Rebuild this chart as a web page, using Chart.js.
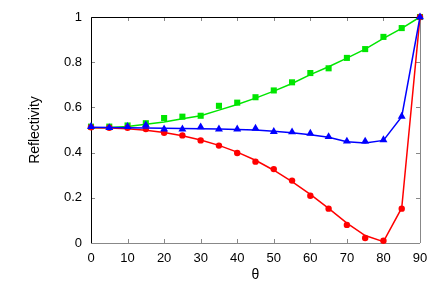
<!DOCTYPE html>
<html>
<head>
<meta charset="utf-8">
<script src="https://cdn.jsdelivr.net/npm/chart.js@4"></script>
<style>
  body { margin: 0; background: #fff; }
</style>
</head>
<body>
<canvas id="myChart" width="436" height="305"></canvas>
<script>
var angles = [0, 5, 10, 15, 20, 25, 30, 35, 40, 45, 50, 55, 60, 65, 70, 75, 80, 85, 90];

// measured points
var greenPts = [0.515, 0.515, 0.52, 0.53, 0.553, 0.559, 0.563, 0.607, 0.621, 0.645, 0.675, 0.711, 0.752, 0.773, 0.819, 0.858, 0.912, 0.951, 1.0];
var redPts   = [0.512, 0.51, 0.51, 0.504, 0.488, 0.476, 0.454, 0.431, 0.398, 0.36, 0.327, 0.276, 0.209, 0.152, 0.08, 0.022, 0.01, 0.152, 1.0];
var bluePts  = [0.515, 0.51, 0.515, 0.522, 0.504, 0.504, 0.513, 0.504, 0.504, 0.507, 0.493, 0.491, 0.485, 0.47, 0.45, 0.45, 0.456, 0.56, 1.0];

// theory curves
var greenLine = [0.51, 0.511, 0.516, 0.525, 0.535, 0.55, 0.563, 0.588, 0.613, 0.641, 0.672, 0.706, 0.745, 0.78, 0.818, 0.858, 0.905, 0.95, 1.0];
var redLine   = [0.51, 0.509, 0.505, 0.499, 0.489, 0.475, 0.456, 0.432, 0.402, 0.366, 0.322, 0.272, 0.215, 0.153, 0.088, 0.033, 0.006, 0.155, 1.0];
var blueLine  = [0.512, 0.511, 0.51, 0.509, 0.508, 0.507, 0.506, 0.504, 0.502, 0.5, 0.494, 0.488, 0.479, 0.468, 0.448, 0.442, 0.454, 0.559, 1.0];

var xTicks = [0, 10, 20, 30, 40, 50, 60, 70, 80, 90];
var yTicks = [0, 0.2, 0.4, 0.6, 0.8, 1];

var GREEN = '#00e600', RED = '#ff0000', BLUE = '#0000ff';

function pts(vals){
    var out = [];
    for(var i=0; i<angles.length; i++){
        out.push({x: angles[i], y: vals[i]});
    }
    return out;
}

function markers(vals, color, style, r){
    return {
        data: pts(vals), showLine: false, pointStyle: style, pointRadius: r,
        pointBackgroundColor: color, pointBorderColor: color, pointBorderWidth: 0,
        borderColor: color, backgroundColor: color, clip: false
    };
}

function curve(vals, color){
    return {
        data: pts(vals), showLine: true, pointRadius: 0, borderColor: color,
        borderWidth: 1.5, tension: 0, fill: false, clip: false
    };
}

// frame and inward ticks, gnuplot style
var framePlugin = {
    id: 'frame',
    beforeDatasetsDraw: function(chart){
        var c = chart.ctx, a = chart.chartArea;
        var xs = chart.scales.x, ys = chart.scales.y;
        c.save();
        c.lineWidth = 1;
        c.strokeStyle = '#888';
        c.beginPath();
        xTicks.forEach(function(t){
            var px = Math.round(xs.getPixelForValue(t)) + 0.5;
            c.moveTo(px, a.bottom); c.lineTo(px, a.bottom - 4);
            c.moveTo(px, a.top); c.lineTo(px, a.top + 4);
        });
        yTicks.forEach(function(t){
            var py = Math.round(ys.getPixelForValue(t)) + 0.5;
            c.moveTo(a.left, py); c.lineTo(a.left + 4, py);
            c.moveTo(a.right, py); c.lineTo(a.right - 4, py);
        });
        c.stroke();
        // bottom and right in grey
        c.beginPath();
        c.moveTo(a.left, a.bottom + 0.5); c.lineTo(a.right, a.bottom + 0.5);
        c.moveTo(a.right + 0.5, a.bottom); c.lineTo(a.right + 0.5, a.top);
        c.stroke();
        // left and top in black
        c.strokeStyle = '#000';
        c.beginPath();
        c.moveTo(a.left + 0.5, a.bottom); c.lineTo(a.left + 0.5, a.top + 0.5);
        c.lineTo(a.right, a.top + 0.5);
        c.stroke();
        c.restore();
    }
};

var ctx = document.getElementById("myChart").getContext('2d');
var myChart = new Chart(ctx, {
    type: 'line',
    data: {
        datasets: [
            markers(bluePts, BLUE, 'triangle', 4.6),
            curve(blueLine, BLUE),
            markers(redPts, RED, 'circle', 3.2),
            curve(redLine, RED),
            markers(greenPts, GREEN, 'rect', 4.3),
            curve(greenLine, GREEN)
        ]
    },
    options: {
        responsive: false,
        animation: false,
        layout: { padding: { left: 0, right: 16, top: 17, bottom: 0 } },
        plugins: { legend: { display: false }, tooltip: { enabled: false } },
        scales: {
            x: {
                type: 'linear', min: 0, max: 90,
                grid: { display: false, drawTicks: false },
                border: { display: false },
                afterFit: function(s){ s.height = 62; },
                afterBuildTicks: function(s){ s.ticks = xTicks.map(function(v){ return {value: v}; }); },
                ticks: { padding: 8, color: '#000', font: { family: 'Liberation Sans', size: 13 },
                         callback: function(v){ return String(v); } },
                title: { display: true, text: 'θ', color: '#000', padding: { top: 0, bottom: 21 }, font: { family: 'Liberation Sans', size: 14 } }
            },
            y: {
                type: 'linear', min: 0, max: 1,
                grid: { display: false, drawTicks: false },
                border: { display: false },
                afterFit: function(s){ s.width = 91; },
                afterBuildTicks: function(s){ s.ticks = yTicks.map(function(v){ return {value: v}; }); },
                ticks: { padding: 9, color: '#000', font: { family: 'Liberation Sans', size: 13 },
                         callback: function(v){ return String(v); } },
                title: { display: true, text: 'Reflectivity', color: '#000', padding: { top: 27, bottom: 0 }, font: { family: 'Liberation Sans', size: 14 } }
            }
        }
    },
    plugins: [framePlugin]
});
</script>
</body>
</html>
